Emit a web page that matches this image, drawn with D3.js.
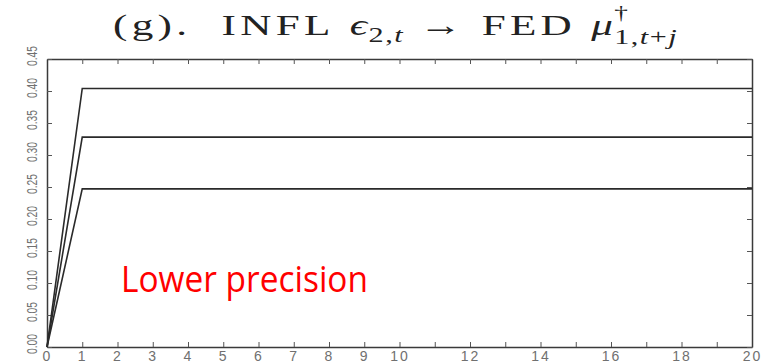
<!DOCTYPE html>
<html>
<head>
<meta charset="utf-8">
<script src="https://cdn.jsdelivr.net/npm/d3@7"></script>
<style>
  html, body { margin: 0; padding: 0; background: #fff; }
  svg { display: block; }
</style>
</head>
<body>
<script>
// Horizon j of the impulse response
const horizon = [0, 1, 2, 3, 4, 5, 6, 7, 8, 9, 10, 11, 12, 13, 14, 15, 16, 17, 18, 19, 20];

// Upper band, median and lower band of the response
const upperBand  = [0, 0.404, 0.404, 0.404, 0.404, 0.404, 0.404, 0.404, 0.404, 0.404, 0.404, 0.404, 0.404, 0.404, 0.404, 0.404, 0.404, 0.404, 0.404, 0.404, 0.404];
const medianResp = [0, 0.328, 0.328, 0.328, 0.328, 0.328, 0.328, 0.328, 0.328, 0.328, 0.328, 0.328, 0.328, 0.328, 0.328, 0.328, 0.328, 0.328, 0.328, 0.328, 0.328];
const lowerBand  = [0, 0.247, 0.247, 0.247, 0.247, 0.247, 0.247, 0.247, 0.247, 0.247, 0.247, 0.247, 0.247, 0.247, 0.247, 0.247, 0.247, 0.247, 0.247, 0.247, 0.247];

// Axis ticks
const xTicks = [0, 1, 2, 3, 4, 5, 6, 7, 8, 9, 10, 11, 12, 13, 14, 15, 16, 17, 18, 19, 20];
const xTickLabels = ["0", "1", "2", "3", "4", "5", "6", "7", "8", "9", "10", "", "12", "", "14", "", "16", "", "18", "", "20"];
const yTicks = [0, 0.05, 0.10, 0.15, 0.20, 0.25, 0.30, 0.35, 0.40, 0.45];
const yTickLabels = ["0.00", "0.05", "0.10", "0.15", "0.20", "0.25", "0.30", "0.35", "0.40", "0.45"];

const W = 771, H = 364;
const margin = { left: 47, right: 19, top: 59, bottom: 17 };

const svg = d3.select("body").append("svg")
  .attr("width", W).attr("height", H);

const x = d3.scaleLinear().domain([0, 20]).range([margin.left, W - margin.right]);
const y = d3.scaleLinear().domain([0, 0.45]).range([H - margin.bottom, margin.top]);

const frameColor = "#3a3a3a";
const labelColor = "#707070";

// Axes with inward ticks on all four sides
const bottomAxis = svg.append("g")
  .attr("transform", `translate(0,${y(0)})`)
  .call(d3.axisBottom(x).tickValues(xTicks)
    .tickFormat((d, i) => xTickLabels[i])
    .tickSizeInner(-5).tickSizeOuter(0).tickPadding(4));

const topAxis = svg.append("g")
  .attr("transform", `translate(0,${y(0.45)})`)
  .call(d3.axisTop(x).tickValues(xTicks).tickFormat("")
    .tickSizeInner(-5).tickSizeOuter(0));

const leftAxis = svg.append("g")
  .attr("transform", `translate(${x(0)},0)`)
  .call(d3.axisLeft(y).tickValues(yTicks)
    .tickFormat((d, i) => yTickLabels[i])
    .tickSizeInner(-5).tickSizeOuter(0));

const rightAxis = svg.append("g")
  .attr("transform", `translate(${x(20)},0)`)
  .call(d3.axisRight(y).tickValues(yTicks).tickFormat("")
    .tickSizeInner(-5).tickSizeOuter(0));

[bottomAxis, topAxis, leftAxis, rightAxis].forEach(a => {
  a.select(".domain").attr("stroke", frameColor).attr("stroke-width", 1.5);
  a.selectAll(".tick line").attr("stroke", "#555").attr("stroke-width", 1);
});

bottomAxis.selectAll(".tick text")
  .attr("fill", labelColor)
  .style("font-family", "'Liberation Sans', Arial, sans-serif")
  .style("font-size", "14px")
  .style("letter-spacing", "2px")
  .attr("dy", "0.71em");

// Vertical tick labels on the left axis
leftAxis.selectAll(".tick text")
  .attr("fill", labelColor)
  .style("font-family", "'Liberation Sans', Arial, sans-serif")
  .style("font-size", "14.5px")
  .attr("x", 0).attr("dy", "0.36em")
  .attr("text-anchor", "middle")
  .attr("textLength", 20).attr("lengthAdjust", "spacingAndGlyphs")
  .attr("transform", "translate(-15,-3.5) rotate(-90)");

// Response paths
const line = d3.line()
  .x((d, i) => x(horizon[i]))
  .y(d => y(d));

[upperBand, medianResp, lowerBand].forEach(series => {
  svg.append("path")
    .datum(series)
    .attr("fill", "none")
    .attr("stroke", "#2a2a2a")
    .attr("stroke-width", 1.6)
    .attr("stroke-linejoin", "miter")
    .attr("d", line);
});

// Title: (g). INFL ϵ_{2,t} → FED μ^†_{1,t+j}
const title = svg.append("g")
  .style("font-family", "'Liberation Serif', 'DejaVu Serif', serif")
  .attr("fill", "#222");
let cx = 0;
function piece(str, size, dy, italic, spacing = 0, advance = true) {
  const t = title.append("text")
    .attr("x", cx).attr("y", dy)
    .style("font-size", size + "px")
    .style("font-style", italic ? "italic" : "normal")
    .style("letter-spacing", spacing + "px")
    .text(str);
  const w = t.node().getComputedTextLength();
  if (advance) cx += w;
  return w;
}
piece("(g).\u00A0\u00A0INFL\u00A0", 30, 0, false, 3);
piece("\u03F5", 30, 0, true, 1);
piece("2,", 21, 7, false, 1);
piece("t", 21, 7, true, 1);
piece("\u00A0\u2192\u00A0", 30, 0, false, 3);
piece("FED\u00A0", 30, 0, false, 3);
piece("\u03BC", 30, 0, true, 1);
const supX = cx;
piece("\u2020", 19, -16, false, 0, false);
cx = supX;
piece("1,", 21, 9, false, 1);
piece("t", 21, 9, true, 1);
piece("+", 21, 9, false, 1);
piece("j", 21, 9, true, 1);
const titleLeft = 113, titleRight = 678;
title.attr("transform", `translate(${titleLeft},35) scale(${(titleRight - titleLeft) / cx},1)`);

// Annotation
svg.append("text")
  .attr("x", 121).attr("y", 292)
  .attr("fill", "#ff0000")
  .style("font-family", "'Open Sans', 'Noto Sans', sans-serif")
  .style("font-size", "36px")
  .attr("textLength", 247).attr("lengthAdjust", "spacingAndGlyphs")
  .text("Lower precision");
</script>
</body>
</html>
